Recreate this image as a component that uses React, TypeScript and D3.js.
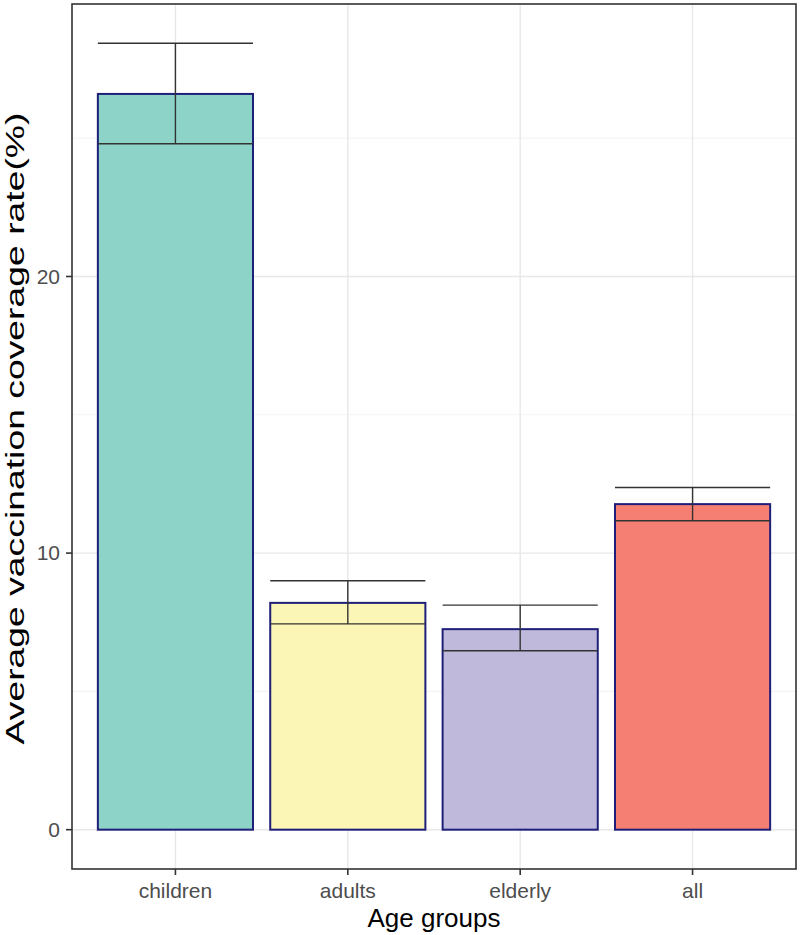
import React from "react";
import * as d3 from "d3";

const categories = ["children", "adults", "elderly", "all"];
const means = [26.6, 8.2, 7.25, 11.77];
const lower = [24.8, 7.44, 6.47, 11.17];
const upper = [28.43, 9.0, 8.12, 12.37];
const fills = ["#8DD3C7", "#FBF6B5", "#BFBADB", "#F57F72"];
const yTicks = [0, 10, 20];
const yMinor = [5, 15, 25];

const W = 800, H = 935;
const L = 72, R = 796, T = 4, B = 869;

export default function App() {
  const dataMax = d3.max(upper) as number;
  const pad = dataMax * 0.05;
  const y = d3.scaleLinear().domain([-pad, dataMax + pad]).range([B, T]);
  // ggplot discrete scale: positions 1..n, expanded by 0.6 on each side
  const xPos = d3.scalePoint().domain(categories).range([1, categories.length]);
  const xs = d3.scaleLinear().domain([0.4, categories.length + 0.6]).range([L, R]);
  const cx = (c: string) => xs(xPos(c) as number);
  const bw = xs(1.9) - xs(1);
  const font = "'Liberation Sans', Arial, Helvetica, sans-serif";
  return (
    <svg width={W} height={H} style={{ position: "absolute", left: 0, top: 0, background: "#fff" }}>
      <rect x={0} y={0} width={W} height={H} fill="#fff" />
      {yMinor.map((v) => (
        <line key={"mn" + v} x1={L} x2={R} y1={y(v)} y2={y(v)} stroke="#EFEFEF" strokeWidth={0.8} />
      ))}
      {yTicks.map((v) => (
        <line key={"mj" + v} x1={L} x2={R} y1={y(v)} y2={y(v)} stroke="#E8E8E8" strokeWidth={1.4} />
      ))}
      {categories.map((c) => (
        <line key={"vg" + c} x1={cx(c)} x2={cx(c)} y1={T} y2={B} stroke="#E8E8E8" strokeWidth={1.4} />
      ))}
      {categories.map((c, i) => (
        <rect key={"b" + c} x={cx(c) - bw / 2} y={y(means[i])} width={bw} height={y(0) - y(means[i])}
          fill={fills[i]} stroke="#1F1F7A" strokeWidth={2} />
      ))}
      {categories.map((c, i) => (
        <g key={"e" + c} stroke="#333" strokeWidth={1.4}>
          <line x1={cx(c) - bw / 2} x2={cx(c) + bw / 2} y1={y(upper[i])} y2={y(upper[i])} />
          <line x1={cx(c) - bw / 2} x2={cx(c) + bw / 2} y1={y(lower[i])} y2={y(lower[i])} />
          <line x1={cx(c)} x2={cx(c)} y1={y(upper[i])} y2={y(lower[i])} />
        </g>
      ))}
      <rect x={L} y={T} width={R - L} height={B - T} fill="none" stroke="#333" strokeWidth={1.6} />
      {yTicks.map((v) => (
        <g key={"yt" + v}>
          <line x1={L - 6} x2={L} y1={y(v)} y2={y(v)} stroke="#333" strokeWidth={1.6} />
          <text x={L - 12} y={y(v)} dy="0.35em" textAnchor="end" fontFamily={font} fontSize={21} fill="#4D4D4D">{v}</text>
        </g>
      ))}
      {categories.map((c) => (
        <g key={"xt" + c}>
          <line x1={cx(c)} x2={cx(c)} y1={B} y2={B + 6} stroke="#333" strokeWidth={1.6} />
          <text x={cx(c)} y={898} textAnchor="middle" fontFamily={font} fontSize={21} fill="#4D4D4D">{c}</text>
        </g>
      ))}
      <text x={(L + R) / 2} y={927} textAnchor="middle" fontFamily={font} fontSize={26} fill="#000">Age groups</text>
      <text transform={`translate(24, ${(T + B) / 2 - 8}) rotate(-90)`} textAnchor="middle" fontFamily={font}
        fontSize={25} fill="#000" textLength={632} lengthAdjust="spacingAndGlyphs">
        Average vaccination coverage rate(%)
      </text>
    </svg>
  );
}
